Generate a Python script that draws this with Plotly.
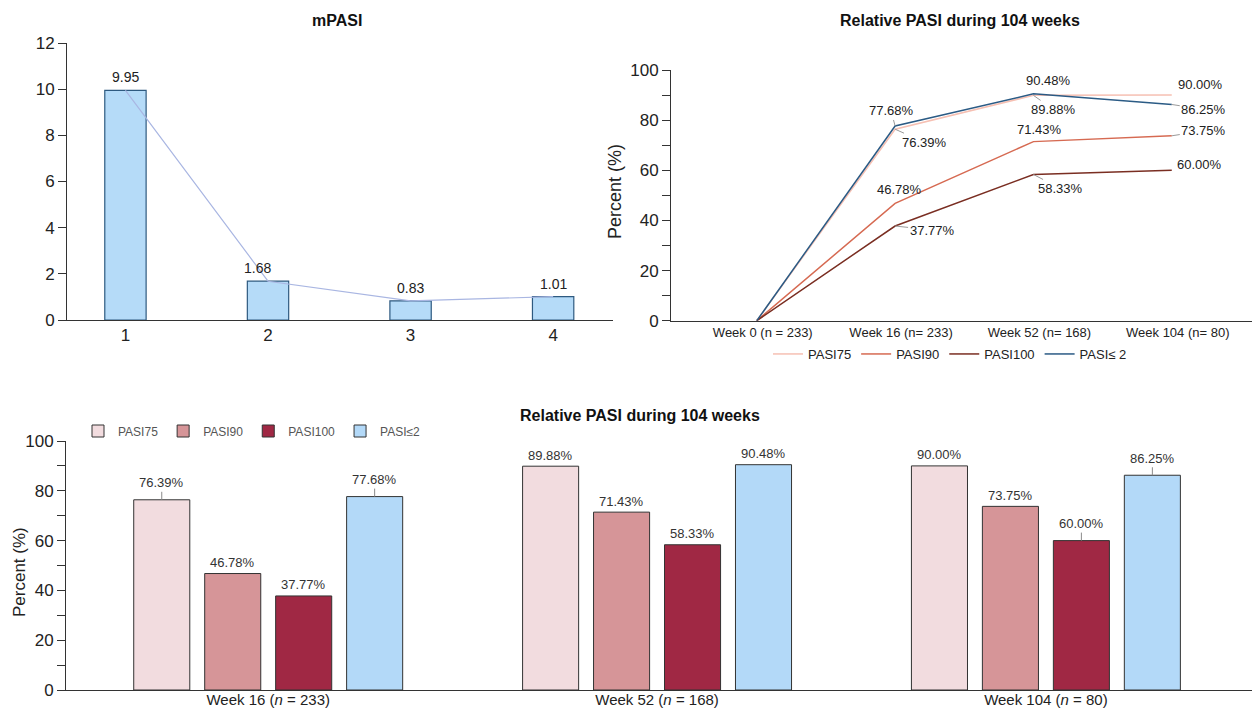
import plotly.graph_objects as go

# ---------------- data ----------------
mpasi_visits = ["1", "2", "3", "4"]
mpasi_values = [9.95, 1.68, 0.83, 1.01]

line_weeks = ["Week 0 (n = 233)", "Week 16 (n= 233)", "Week 52 (n= 168)", "Week 104 (n= 80)"]
line_pasi75 = [0, 76.39, 89.88, 90.00]
line_pasi90 = [0, 46.78, 71.43, 73.75]
line_pasi100 = [0, 37.77, 58.33, 60.00]
line_pasi_le2 = [0, 77.68, 90.48, 86.25]

bar_weeks = ["Week 16 (<i>n</i> = 233)", "Week 52 (<i>n</i> = 168)", "Week 104 (<i>n</i> = 80)"]
bar_pasi75 = [76.39, 89.88, 90.00]
bar_pasi90 = [46.78, 71.43, 73.75]
bar_pasi100 = [37.77, 58.33, 60.00]
bar_pasi_le2 = [77.68, 90.48, 86.25]

series_names = ["PASI75", "PASI90", "PASI100", "PASI\u2264 2"]

# ---------------- style ----------------
FONT = "Liberation Sans, Arial, Helvetica, sans-serif"
AX = "#333333"
TXT = "#222222"
line_colors = ["#f6c0b3", "#d66a52", "#7a2e22", "#2b5b85"]
bar_colors = ["#f2dcdf", "#d69598", "#a02844", "#b3d9f8"]

# page has an 8px body margin; map window pixels to paper fractions
W, H, OFF = 1244, 702, 8


def px(x):
    return (x - OFF) / W


def py(y):
    return 1 - (y - OFF) / H


# label offsets (px) for the line chart: (ax, ay, show leader)
line_label_style = {
    "PASI75": {1: (29, 13, True), 2: (20, 14, True), 3: (29, -11, False)},
    "PASI90": {1: (4, -14, False), 2: (6, -12, False), 3: (32, -5, True)},
    "PASI100": {1: (37, 4, True), 2: (27, 14, True), 3: (28, -6, False)},
    "PASI\u2264 2": {1: (-4, -15, True), 2: (15, -13, False), 3: (32, 5, True)},
}
# bar labels with leader lines in the bottom chart: (series index, category index)
bar_leaders = {(0, 0), (3, 0), (3, 2), (2, 2)}
mpasi_xshift = [0, -11, 0, 0]

fig = go.Figure()

# ---- top-left: mPASI bars + connecting line ----
fig.add_trace(go.Bar(
    x=mpasi_visits, y=mpasi_values, width=0.29,
    marker=dict(color="#b5dbf8", line=dict(color="#2e5a80", width=1.2)),
    xaxis="x", yaxis="y", showlegend=False, hoverinfo="skip"))
fig.add_trace(go.Scatter(
    x=mpasi_visits, y=mpasi_values, mode="lines",
    line=dict(color="#a9b6e2", width=1.2),
    xaxis="x", yaxis="y", showlegend=False, hoverinfo="skip"))

# ---- top-right: lines ----
line_series = [line_pasi75, line_pasi90, line_pasi100, line_pasi_le2]
for name, vals, col in zip(series_names, line_series, line_colors):
    fig.add_trace(go.Scatter(
        x=line_weeks, y=vals, mode="lines", name=name,
        line=dict(color=col, width=1.5),
        xaxis="x2", yaxis="y2", legend="legend"))

# ---- bottom: grouped bars ----
bar_series = [bar_pasi75, bar_pasi90, bar_pasi100, bar_pasi_le2]
for name, vals, col in zip(series_names, bar_series, bar_colors):
    fig.add_trace(go.Bar(
        x=bar_weeks, y=vals, name=name.replace(" ", ""),
        marker=dict(color=col, line=dict(color="#333333", width=1)),
        xaxis="x3", yaxis="y3", legend="legend2"))

annotations = []
# mPASI labels (category index positions)
for i, v in enumerate(mpasi_values):
    annotations.append(dict(
        x=i, y=v, xref="x", yref="y", text=f"{v:.2f}", showarrow=False,
        yshift=13, xshift=mpasi_xshift[i], font=dict(size=14, color=TXT, family=FONT)))

# line chart labels
for name, vals in zip(series_names, line_series):
    for idx, (ax, ay, lead) in line_label_style[name].items():
        annotations.append(dict(
            x=idx, y=vals[idx], xref="x2", yref="y2",
            text=f"{vals[idx]:.2f}%", showarrow=True, arrowhead=0, arrowwidth=1,
            arrowcolor="#9a9a9a" if lead else "rgba(0,0,0,0)",
            ax=ax, ay=ay, font=dict(size=13, color=TXT, family=FONT)))

# bar chart labels
n_series = len(bar_series)
slot = (1 - 0.27) / n_series
for s, vals in enumerate(bar_series):
    off = (s - (n_series - 1) / 2) * slot
    for c, v in enumerate(vals):
        lead = (s, c) in bar_leaders
        annotations.append(dict(
            x=c + off, y=v, xref="x3", yref="y3", text=f"{v:.2f}%",
            showarrow=True, arrowhead=0, arrowwidth=1,
            arrowcolor="#8a8a8a" if lead else "rgba(0,0,0,0)",
            ax=0, ay=-17 if lead else -11,
            font=dict(size=13, color="#333333", family=FONT)))

# titles
title_common = dict(xref="paper", yref="paper", showarrow=False, xanchor="center", yanchor="middle")
annotations += [
    dict(text="<b>mPASI</b>", x=px(337), y=py(20),
         font=dict(size=16, color="#111", family=FONT), **title_common),
    dict(text="<b>Relative PASI during 104 weeks</b>", x=px(960), y=py(20),
         font=dict(size=16, color="#111", family=FONT), **title_common),
    dict(text="<b>Relative PASI during 104 weeks</b>", x=px(640), y=py(415),
         font=dict(size=16, color="#111", family=FONT), **title_common),
    dict(text="Percent (%)", x=px(615), y=py(192), textangle=-90,
         font=dict(size=18, color=TXT, family=FONT), **title_common),
    dict(text="Percent (%)", x=px(19), y=py(572), textangle=-90,
         font=dict(size=17, color=TXT, family=FONT), **title_common),
]

axis_common = dict(showline=True, linecolor=AX, linewidth=1, showgrid=False, zeroline=False,
                   tickfont=dict(size=17, color=TXT, family=FONT))

fig.update_layout(
    width=W, height=H, margin=dict(l=0, r=0, t=0, b=0),
    paper_bgcolor="white", plot_bgcolor="white", template="none",
    font=dict(family=FONT, color=TXT),
    barmode="group", bargap=0.27, bargroupgap=0.21,
    xaxis=dict(domain=[px(67), px(613)], anchor="y", type="category",
               range=[-0.41, 3.42], ticks="", **axis_common),
    yaxis=dict(domain=[py(320), py(43)], anchor="x", range=[0, 12], dtick=2,
               ticks="outside", ticklen=8, tickcolor=AX, **axis_common),
    xaxis2=dict(domain=[px(671), px(1252)], anchor="y2", type="category",
                range=[-0.62, 3.58], ticks="", ticklabelshift=6,
                **{**axis_common, "tickfont": dict(size=13, color=TXT, family=FONT)}),
    yaxis2=dict(domain=[py(320.7), py(70)], anchor="x2", range=[0, 100],
                tickvals=[0, 20, 40, 60, 80, 100], ticks="outside", ticklen=8, tickcolor=AX,
                minor=dict(dtick=10, ticks="outside", ticklen=8, tickcolor=AX, showgrid=False),
                **axis_common),
    xaxis3=dict(domain=[px(66), px(1252)], anchor="y3", type="category",
                range=[-0.52, 2.53], ticks="", ticklabelstandoff=-4,
                **{**axis_common, "tickfont": dict(size=15, color=TXT, family=FONT)}),
    yaxis3=dict(domain=[py(690), py(441)], anchor="x3", range=[0, 100],
                tickvals=[0, 20, 40, 60, 80, 100], ticks="outside", ticklen=8, tickcolor=AX,
                minor=dict(dtick=10, ticks="outside", ticklen=8, tickcolor=AX, showgrid=False),
                **axis_common),
    legend=dict(orientation="h", x=px(950), y=py(354), xanchor="center", yanchor="middle",
                font=dict(size=13, color=TXT, family=FONT), itemwidth=30, bgcolor="rgba(0,0,0,0)",
                tracegroupgap=0),
    legend2=dict(orientation="h", x=px(78), y=py(431), xanchor="left", yanchor="middle",
                 font=dict(size=12, color="#555", family=FONT), itemwidth=30, bgcolor="rgba(0,0,0,0)"),
    annotations=annotations,
)

fig.write_html("out.html")
